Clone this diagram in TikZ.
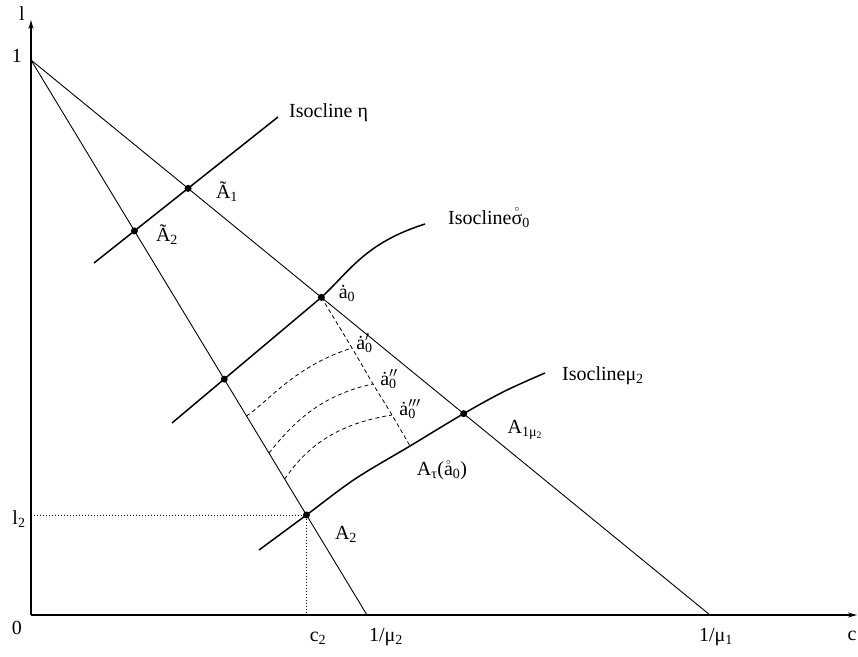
\documentclass[tikz,border=0pt]{standalone}
\usepackage{fontspec}
\setmainfont{Liberation Serif}
\usetikzlibrary{arrows.meta,calc}
\newcommand{\ringsig}{{\ooalign{σ\cr\hidewidth\raisebox{0.62em}{\fontsize{9}{9}\selectfont$\circ$}\hidewidth\cr}}}
\newcommand{\ringa}{{\ooalign{a\cr\hidewidth\raisebox{0.55em}{\fontsize{9}{9}\selectfont$\circ$}\hidewidth\cr}}}
\begin{document}
\begin{tikzpicture}[x=1pt,y=-1pt,
  axis/.style={line width=1.6pt,-{Stealth[length=9pt,width=5pt]}},
  ray/.style={line width=0.9pt},
  iso/.style={line width=1.5pt},
  dsh/.style={line width=0.8pt,dash pattern=on 4pt off 3pt},
  dtd/.style={line width=0.9pt,dash pattern=on 1pt off 2pt},
  dot/.style={circle,fill,inner sep=0pt,minimum size=7pt},
  lab/.style={font=\fontsize{20}{22}\selectfont,inner sep=0pt}]
\useasboundingbox (0,0) rectangle (858,656);
% axes
\coordinate (O) at (31,615);
\coordinate (ytop) at (31,20);
\coordinate (xend) at (857,615);
\draw[axis] (O) -- (ytop);
\draw[axis] (O) -- (xend);
% straight lines
\coordinate (P1) at (31,60);
\coordinate (M1) at (710,615);
\coordinate (M2) at (367,615);
\draw[ray] (P1) -- (M1);
\draw[ray] (P1) -- (M2);
% isocline eta
\coordinate (e1) at (94,263);
\coordinate (e2) at (278,117);
\draw[iso] (e1) -- (e2);
\coordinate (At1) at (intersection of P1--M1 and e1--e2);
\coordinate (At2) at (intersection of P1--M2 and e1--e2);
% isocline sigma
\coordinate (s1) at (172,423);
\coordinate (s2) at (425,224);
\coordinate (s3) at (323,296);
\coordinate (a0) at (intersection of P1--M1 and s1--s3);
\coordinate (sL) at (intersection of P1--M2 and s1--a0);
\draw[iso] (s1) -- (a0) .. controls (350,271) and (365,243) .. (s2);
% isocline mu2
\coordinate (m1) at (259,550);
\coordinate (A2) at ($(P1)!0.8198!(M2)$);
\coordinate (Am) at ($(P1)!0.6372!(M1)$);
\coordinate (m2) at (545,373);
\draw[iso] plot[smooth,tension=0.55] coordinates {(m1) (A2) (355,479) (410,446) (Am) (505,391) (m2)};
% dashed lines
\coordinate (d1) at (352,348);
\coordinate (d2) at (373,384);
\coordinate (d3) at (392,415);
\coordinate (d4) at (410,446);
\coordinate (L1) at ($(P1)!0.6414!(M2)$);
\coordinate (L2) at ($(P1)!0.7081!(M2)$);
\coordinate (L3) at ($(P1)!0.7550!(M2)$);
\draw[dsh] plot[smooth] coordinates {(a0) (d1) (d2) (d3) (d4)};
\draw[dsh] (L1) .. controls (270,400) and (295,366) .. (d1);
\draw[dsh] (L2) .. controls (288,430) and (315,396) .. (d2);
\draw[dsh] (L3) .. controls (306,448) and (335,424) .. (d3);
% dotted
\coordinate (yl2) at (O |- A2);
\coordinate (xc2) at (A2 |- O);
\draw[dtd] (yl2) -- (A2) -- (xc2);
% dots
\node[dot] (dA1) at (At1) {};
\node[dot] (dA2) at (At2) {};
\node[dot] (da0) at (a0) {};
\node[dot] (dsL) at (sL) {};
\node[dot] (dAm) at (Am) {};
\node[dot] (dA2b) at (A2) {};
% labels
\node[lab] (ly) at (22,14) {l};
\node[lab] (l1) at (17,56) {1};
\node[lab] (l0) at (17,628) {0};
\node[lab] (ll2) at (19,519) {l\textsubscript{2}};
\node[lab] (lc2) at (318,638) {c\textsubscript{2}};
\node[lab] (lm2) at (386,637) {1/μ\textsubscript{2}};
\node[lab] (lm1) at (716,637) {1/μ\textsubscript{1}};
\node[lab] (lc) at (852,636) {c};
\node[lab,anchor=west] (leta) at (289,113) {Isocline η};
\node[lab,anchor=west] (lsig) at (448,219) {Isocline\ringsig\textsubscript{0}};
\node[lab,anchor=west] (lmu) at (562,376) {Isoclineμ\textsubscript{2}};
\node[lab] (lA1) at (227,192) {Ã\textsubscript{1}};
\node[lab] (lA2) at (167,235) {Ã\textsubscript{2}};
\node[lab] (la0) at (347,293) {\.a\textsubscript{0}};
\node[lab] (la1) at (363,343) {\.a\rlap{\textsubscript{0}}$^{\prime}$};
\node[lab] (la2) at (389,379) {\.a\rlap{\textsubscript{0}}$^{\prime\prime}$};
\node[lab] (la3) at (410,409) {\.a\rlap{\textsubscript{0}}$^{\prime\prime\prime}$};
\node[lab] (lAm) at (525,430) {A\textsubscript{1μ\textsubscript{2}}};
\node[lab] (lAt) at (442,471) {A\textsubscript{τ}(\ringa\textsubscript{0})};
\node[lab] (lA2) at (346,534) {A\textsubscript{2}};
\end{tikzpicture}
\end{document}
